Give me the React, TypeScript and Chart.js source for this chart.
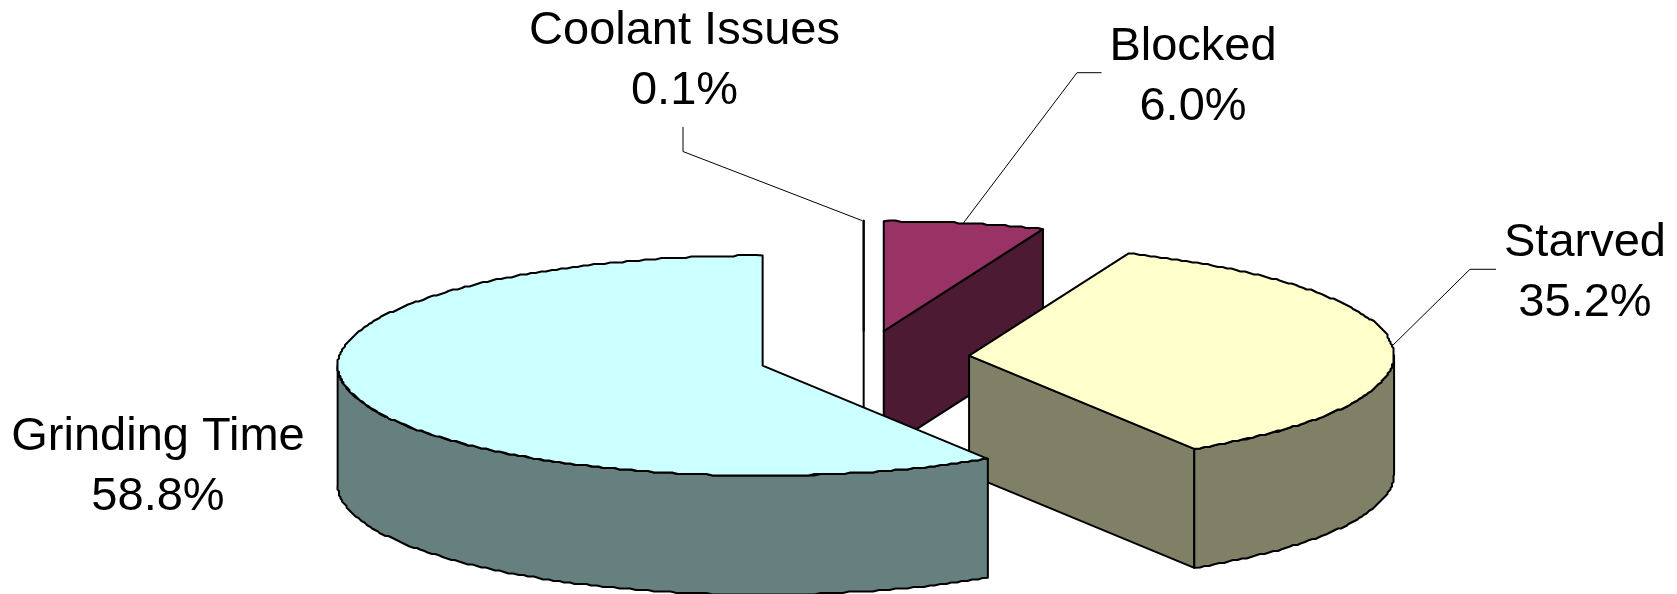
import React, { useEffect, useRef } from "react";
import { Chart, registerables } from "chart.js";

Chart.register(...registerables);

// Slices in painting order: the rearmost one first.
const categories = ["Coolant Issues", "Blocked", "Starved", "Grinding Time"];
const shares = [0.1, 6.0, 35.2, 58.8];
const topColors = ["#FFFFFF", "#993366", "#FFFFCC", "#CCFFFF"];
const sideColors = ["#808080", "#4D1A33", "#808066", "#668080"];

const WIDTH = 1677;
const HEIGHT = 594;
const RADIUS = 425;
const EXPLODE = 105.5;
const TILT = 110 / 425;
const DEPTH = 119;
const EDGE_WIDTH = 2;
const SNAP = 1.5;
const FONT = '47px "Liberation Sans", Arial, sans-serif';

// Label blocks: centre x, first baseline, and the elbow points of the leader line.
const labelLayout: { x: number; y: number; leader: number[][] }[] = [
  { x: 684.5, y: 44, leader: [[683, 127], [683, 151.5]] },
  { x: 1193, y: 60, leader: [[1101.5, 72.7], [1077, 72.7]] },
  { x: 1585, y: 256, leader: [[1496, 269.3], [1470, 269.3]] },
  { x: 158, y: 450, leader: [] },
];
const LINE_GAP = 60;

type Pt = [number, number];

const snap = (v: number) => Math.round(v / SNAP) * SNAP;

// Slice boundaries are plotted on whole degrees, so a very small share collapses to a single edge.
const wholeDegree = (a: number) => (Math.round((a * 180) / Math.PI) * Math.PI) / 180;

// Points along the rim between two angles, lightly stepped so the curve reads as a plotted polyline.
function rim(cx: number, cy: number, a0: number, a1: number): Pt[] {
  const pts: Pt[] = [];
  const n = Math.max(1, Math.ceil((Math.abs(a1 - a0) * RADIUS) / 6));
  for (let i = 0; i <= n; i++) {
    const a = a0 + ((a1 - a0) * i) / n;
    const x = cx + RADIUS * Math.cos(a);
    const y = cy + RADIUS * TILT * Math.sin(a);
    pts.push(i === 0 || i === n ? [x, y] : [snap(x), snap(y)]);
  }
  return pts;
}

function paint(ctx: CanvasRenderingContext2D, pts: Pt[], fill: string) {
  ctx.beginPath();
  pts.forEach(([x, y], i) => (i ? ctx.lineTo(x, y) : ctx.moveTo(x, y)));
  ctx.closePath();
  ctx.fillStyle = fill;
  ctx.fill();
  ctx.stroke();
}

const drop = (pts: Pt[]): Pt[] => pts.map(([x, y]) => [x, y + DEPTH] as Pt);

function sliceCentre(arc: any): Pt {
  const mid = (arc.startAngle + arc.endAngle) / 2;
  const off = arc.options.offset;
  return [arc.x + off * Math.cos(mid), arc.y + off * TILT * Math.sin(mid)];
}

// Extruded, foreshortened slices built on the arc elements of the pie controller.
const extrudedPie = {
  id: "extrudedPie",
  beforeDatasetDraw(chart: any) {
    const ctx: CanvasRenderingContext2D = chart.ctx;
    ctx.save();
    ctx.lineWidth = EDGE_WIDTH;
    ctx.lineJoin = "round";
    ctx.strokeStyle = "#000000";
    chart.getDatasetMeta(0).data.forEach((arc: any, i: number) => {
      const [cx, cy] = sliceCentre(arc);
      const s = wholeDegree(arc.startAngle);
      const e = wholeDegree(arc.endAngle);
      const apex: Pt = [cx, cy];
      const wall = (a: number) => {
        const p: Pt = [cx + RADIUS * Math.cos(a), cy + RADIUS * TILT * Math.sin(a)];
        paint(ctx, [apex, p, [p[0], p[1] + DEPTH], [cx, cy + DEPTH]], sideColors[i]);
      };

      // Radial wall on whichever cut edge faces the viewer.
      if (Math.cos(e) > 1e-6 || e - s < 1e-6) wall(e);
      if (Math.cos(s) < -1e-6) wall(s);

      // Curved wall: only the part of the rim on the near half of the ellipse.
      for (const k of [0, 2]) {
        const lo = Math.max(s, k * Math.PI);
        const hi = Math.min(e, (k + 1) * Math.PI);
        if (hi > lo) {
          const upper = rim(cx, cy, lo, hi);
          paint(ctx, [...upper, ...drop(upper).reverse()], sideColors[i]);
        }
      }

      // Top face.
      paint(ctx, [apex, ...rim(cx, cy, s, e)], topColors[i]);
    });
    ctx.restore();
    return false;
  },
  afterDatasetsDraw(chart: any) {
    const ctx: CanvasRenderingContext2D = chart.ctx;
    ctx.save();
    chart.getDatasetMeta(0).data.forEach((arc: any, i: number) => {
      const layout = labelLayout[i];
      if (layout.leader.length) {
        const [cx, cy] = sliceCentre(arc);
        const mid = (arc.startAngle + arc.endAngle) / 2;
        const pts = [...layout.leader, [cx + RADIUS * Math.cos(mid), cy + RADIUS * TILT * Math.sin(mid)]];
        ctx.beginPath();
        pts.forEach(([x, y], j) => (j ? ctx.lineTo(x, y) : ctx.moveTo(x, y)));
        ctx.lineWidth = 1;
        ctx.strokeStyle = "#000000";
        ctx.stroke();
      }
      ctx.font = FONT;
      ctx.fillStyle = "#000000";
      ctx.textAlign = "center";
      ctx.textBaseline = "alphabetic";
      ctx.fillText(categories[i], layout.x, layout.y);
      ctx.fillText(`${shares[i].toFixed(1)}%`, layout.x, layout.y + LINE_GAP);
    });
    ctx.restore();
  },
};

export default function App() {
  const ref = useRef<HTMLCanvasElement | null>(null);

  useEffect(() => {
    const total = shares.reduce((a, b) => a + b, 0);
    const chart = new Chart(ref.current as HTMLCanvasElement, {
      type: "pie",
      data: {
        labels: categories,
        datasets: [
          {
            data: shares,
            backgroundColor: topColors,
            borderColor: "#000000",
            offset: EXPLODE,
          },
        ],
      },
      options: {
        responsive: false,
        animation: false,
        // Puts the centre of the pie where the exploded slices spread from.
        layout: { padding: { left: 51, top: 122 } },
        radius: RADIUS,
        rotation: (-360 * shares[0]) / total,
        plugins: { legend: { display: false }, tooltip: { enabled: false } },
      },
      plugins: [extrudedPie],
    } as any);
    return () => chart.destroy();
  }, []);

  return (
    <div style={{ position: "fixed", left: 0, top: 0, width: WIDTH, height: HEIGHT, background: "#FFFFFF" }}>
      <canvas ref={ref} width={WIDTH} height={HEIGHT} style={{ display: "block" }} />
    </div>
  );
}
